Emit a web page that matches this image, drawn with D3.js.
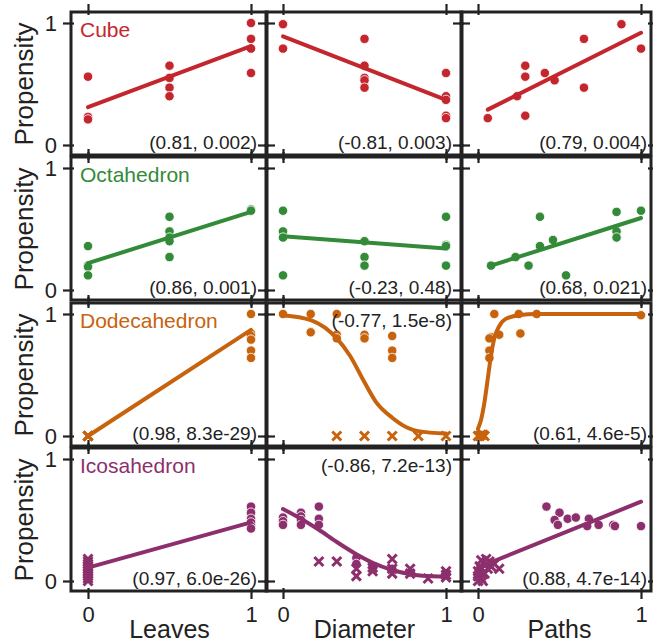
<!DOCTYPE html>
<html>
<head>
<meta charset="utf-8">
<title>Propensity by shape</title>
<script src="https://d3js.org/d3.v7.min.js"></script>
<style>
    body { margin: 0; background: #fff; }
    text { font-family: "Liberation Sans", Arial, Helvetica, sans-serif; }
</style>
</head>
<body>
<div id="my_dataviz"></div>
<script>

    // rows and columns of the grid
    var shapes = ["Cube", "Octahedron", "Dodecahedron", "Icosahedron"];
    var features = ["Leaves", "Diameter", "Paths"];
    var colors = ["#c4262e", "#338a38", "#c7630d", "#8c2f6c"];

    // (correlation, p-value) printed in each panel, row by row
    var stats = [
        ["(0.81, 0.002)", "(-0.81, 0.003)", "(0.79, 0.004)"],
        ["(0.86, 0.001)", "(-0.23, 0.48)", "(0.68, 0.021)"],
        ["(0.98, 8.3e-29)", "(-0.77, 1.5e-8)", "(0.61, 4.6e-5)"],
        ["(0.97, 6.0e-26)", "(-0.86, 7.2e-13)", "(0.88, 4.7e-14)"]
    ];
    // where the stats label sits
    var statsTop = [
        [false, false, false],
        [false, false, false],
        [false, true, false],
        [false, true, false]
    ];

    // points: [x, propensity, marker]  o = dot, x = cross
    var cubeLeaves = [[0, 0.56, "o"], [0, 0.23, "o"], [0, 0.21, "o"], [0.5, 0.65, "o"], [0.5, 0.55, "o"],
        [0.5, 0.47, "o"], [0.5, 0.40, "o"], [1, 1.0, "o"], [1, 0.87, "o"], [1, 0.79, "o"], [1, 0.59, "o"]];
    var cubeDiameter = [[0, 0.99, "o"], [0, 0.79, "o"], [0.5, 0.87, "o"], [0.5, 0.65, "o"], [0.5, 0.55, "o"],
        [0.5, 0.53, "o"], [0.5, 0.47, "o"], [1, 0.59, "o"], [1, 0.40, "o"], [1, 0.37, "o"], [1, 0.24, "o"], [1, 0.22, "o"]];
    var cubePaths = [[0.06, 0.22, "o"], [0.29, 0.24, "o"], [0.24, 0.40, "o"], [0.29, 0.56, "o"], [0.29, 0.65, "o"],
        [0.41, 0.59, "o"], [0.47, 0.53, "o"], [0.65, 0.47, "o"], [0.65, 0.87, "o"], [0.88, 0.99, "o"], [1, 0.79, "o"]];

    var octLeaves = [[0, 0.36, "o"], [0, 0.20, "o"], [0, 0.19, "o"], [0, 0.12, "o"], [0.5, 0.60, "o"], [0.5, 0.48, "o"],
        [0.5, 0.43, "o"], [0.5, 0.40, "o"], [0.5, 0.27, "o"], [1, 0.66, "o"], [1, 0.65, "o"]];
    var octDiameter = [[0, 0.65, "o"], [0, 0.48, "o"], [0, 0.43, "o"], [0, 0.12, "o"], [0.5, 0.40, "o"], [0.5, 0.27, "o"],
        [0.5, 0.20, "o"], [1, 0.60, "o"], [1, 0.37, "o"], [1, 0.36, "o"], [1, 0.20, "o"]];
    var octPaths = [[0.08, 0.20, "o"], [0.23, 0.27, "o"], [0.31, 0.20, "o"], [0.38, 0.36, "o"], [0.38, 0.60, "o"],
        [0.46, 0.41, "o"], [0.54, 0.12, "o"], [0.85, 0.64, "o"], [0.85, 0.48, "o"], [0.85, 0.43, "o"], [1, 0.65, "o"]];

    var dodLeaves = [[0, 0, "x"], [0, 0, "x"], [0, 0, "x"], [1, 1.0, "o"], [1, 0.84, "o"], [1, 0.82, "o"],
        [1, 0.79, "o"], [1, 0.70, "o"], [1, 0.64, "o"]];
    var dodDiameter = [[0, 1.0, "o"], [0.17, 1.0, "o"], [0.17, 0.85, "o"], [0.33, 1.0, "o"], [0.33, 0.83, "o"],
        [0.33, 0.80, "o"], [0.5, 0.83, "o"], [0.5, 0.80, "o"], [0.67, 0.82, "o"], [0.67, 0.70, "o"], [0.67, 0.64, "o"],
        [0.33, 0, "x"], [0.5, 0, "x"], [0.67, 0, "x"], [0.83, 0, "x"], [1, 0, "x"]];
    var dodPaths = [[0.10, 1.0, "o"], [0.25, 1.0, "o"], [0.36, 1.0, "o"], [1, 0.99, "o"], [0.26, 0.84, "o"],
        [0.13, 0.83, "o"], [0.08, 0.81, "o"], [0.07, 0.80, "o"], [0.07, 0.70, "o"], [0.07, 0.64, "o"],
        [0, 0, "x"], [0.02, 0.01, "x"], [0.04, 0, "x"], [0.01, 0, "x"], [0.03, 0.01, "x"]];

    var icoLeaves = [[0, 0, "x"], [0, 0.02, "x"], [0, 0.04, "x"], [0, 0.06, "x"], [0, 0.08, "x"], [0, 0.10, "x"],
        [0, 0.12, "x"], [0, 0.14, "x"], [0, 0.16, "x"], [0, 0.18, "x"], [1, 0.61, "o"], [1, 0.56, "o"],
        [1, 0.51, "o"], [1, 0.48, "o"], [1, 0.45, "o"], [1, 0.43, "o"]];
    var icoDiameter = [[0, 0.52, "o"], [0, 0.49, "o"], [0, 0.46, "o"], [0.11, 0.56, "o"], [0.11, 0.53, "o"],
        [0.11, 0.50, "o"], [0.11, 0.46, "o"], [0.22, 0.61, "o"], [0.22, 0.51, "o"], [0.22, 0.46, "o"],
        [0.45, 0.19, "o"], [0.45, 0.14, "o"], [0.55, 0.12, "o"], [0.67, 0.10, "o"], [0.78, 0.07, "o"], [1, 0.06, "o"],
        [0.22, 0.16, "x"], [0.33, 0.16, "x"], [0.45, 0.10, "x"], [0.45, 0.04, "x"], [0.55, 0.11, "x"], [0.55, 0.08, "x"],
        [0.67, 0.18, "x"], [0.67, 0.10, "x"], [0.67, 0.06, "x"], [0.78, 0.10, "x"], [0.78, 0.06, "x"], [0.89, 0.02, "x"],
        [1, 0.08, "x"], [1, 0.05, "x"], [1, 0.03, "x"]];
    var icoPaths = [[0.42, 0.61, "o"], [0.50, 0.56, "o"], [0.47, 0.50, "o"], [0.49, 0.46, "o"], [0.55, 0.51, "o"],
        [0.60, 0.52, "o"], [0.68, 0.51, "o"], [0.67, 0.45, "o"], [0.74, 0.46, "o"], [0.83, 0.46, "o"], [0.84, 0.45, "o"],
        [1, 0.45, "o"],
        [0, 0, "x"], [0, 0.04, "x"], [0, 0.08, "x"], [0.01, 0.12, "x"], [0.02, 0.02, "x"], [0.02, 0.10, "x"],
        [0.02, 0.17, "x"], [0.04, 0.06, "x"], [0.05, 0.14, "x"], [0.05, 0.18, "x"], [0.06, 0.10, "x"],
        [0.07, 0.16, "x"], [0.08, 0.12, "x"], [0.10, 0.14, "x"], [0.13, 0.10, "x"], [0.03, 0, "x"], [0.01, 0.06, "x"]];

    // fitted curves: [x, propensity]
    var cubeLeavesFit = [[0, 0.31], [1, 0.81]];
    var cubeDiameterFit = [[0, 0.89], [1, 0.37]];
    var cubePathsFit = [[0.06, 0.29], [1, 0.92]];
    var octLeavesFit = [[0, 0.22], [1, 0.64]];
    var octDiameterFit = [[0, 0.44], [1, 0.34]];
    var octPathsFit = [[0.08, 0.20], [1, 0.59]];
    var dodLeavesFit = [[0, 0], [1, 0.87]];
    var dodDiameterFit = [[0, 0.99], [0.17, 0.95], [0.33, 0.80], [0.41, 0.66], [0.5, 0.44], [0.57, 0.28],
        [0.67, 0.15], [0.76, 0.07], [0.83, 0.04], [1, 0.02]];
    var dodPathsFit = [[0, 0.06], [0.02, 0.14], [0.04, 0.28], [0.06, 0.47], [0.08, 0.66], [0.10, 0.80],
        [0.13, 0.90], [0.17, 0.96], [0.25, 0.99], [0.36, 1.0], [1, 1.0]];
    var icoLeavesFit = [[0, 0.11], [1, 0.48]];
    var icoDiameterFit = [[0, 0.59], [0.11, 0.51], [0.22, 0.42], [0.33, 0.32], [0.45, 0.22], [0.55, 0.15],
        [0.67, 0.09], [0.78, 0.055], [0.89, 0.04], [1, 0.035]];
    var icoPathsFit = [[0, 0.11], [1, 0.65]];

    var points = [
        [cubeLeaves, cubeDiameter, cubePaths],
        [octLeaves, octDiameter, octPaths],
        [dodLeaves, dodDiameter, dodPaths],
        [icoLeaves, icoDiameter, icoPaths]
    ];
    var fits = [
        [cubeLeavesFit, cubeDiameterFit, cubePathsFit],
        [octLeavesFit, octDiameterFit, octPathsFit],
        [dodLeavesFit, dodDiameterFit, dodPathsFit],
        [icoLeavesFit, icoDiameterFit, icoPathsFit]
    ];

    // layout
    var width = 653, height = 644;
    var colX0 = [88, 283, 478], unitW = 163;
    var rowY1 = [23, 168, 314, 459], unitH = 122;

    var svg = d3.select("#my_dataviz")
        .append("svg")
        .attr("width", width)
        .attr("height", height);

    function styleAxis(g) {
        g.select(".domain").remove();
        g.selectAll(".tick line").attr("stroke", "#222").attr("stroke-width", 2.2);
        g.attr("font-family", null).attr("font-size", 22);
        g.selectAll(".tick text").attr("fill", "#222");
    }

    shapes.forEach(function (shape, r) {
        features.forEach(function (feature, c) {

            var x = d3.scaleLinear().domain([0, 1]).range([colX0[c], colX0[c] + unitW]);
            var y = d3.scaleLinear().domain([0, 1]).range([rowY1[r] + unitH, rowY1[r]]);
            var left = x(0) - 17, right = Math.min(x(1) + 16, 651);
            var top = y(1) - 11, bottom = y(0) + 10;
            var color = colors[r];

            var g = svg.append("g");

            // ticks on all four sides
            g.append("g")
                .attr("transform", "translate(" + (left + 3) + ",0)")
                .call(d3.axisLeft(y).tickValues([0, 1]).tickSize(11).tickPadding(6)
                    .tickFormat(c == 0 ? d3.format("d") : ""))
                .call(styleAxis);
            g.append("g")
                .attr("transform", "translate(" + (right - 3) + ",0)")
                .call(d3.axisRight(y).tickValues([0, 1]).tickSize(11).tickFormat(""))
                .call(styleAxis);
            g.append("g")
                .attr("transform", "translate(0," + (top + 3) + ")")
                .call(d3.axisTop(x).tickValues([0, 1]).tickSize(11).tickFormat(""))
                .call(styleAxis);
            g.append("g")
                .attr("transform", "translate(0," + (bottom - 3) + ")")
                .call(d3.axisBottom(x).tickValues([0, 1]).tickSize(11).tickPadding(7)
                    .tickFormat(r == shapes.length - 1 ? d3.format("d") : ""))
                .call(styleAxis);

            // panel frame
            g.append("rect")
                .attr("x", left)
                .attr("y", top)
                .attr("width", right - left)
                .attr("height", bottom - top)
                .attr("fill", "none")
                .attr("stroke", "#222")
                .attr("stroke-width", 3);

            var data = points[r][c];

            // dots
            g.append("g")
                .selectAll("circle")
                .data(data.filter(function (d) { return d[2] == "o"; }))
                .enter()
                .append("circle")
                .attr("cx", function (d) { return x(d[0]); })
                .attr("cy", function (d) { return y(d[1]); })
                .attr("r", 4.7)
                .attr("fill", color)
                .attr("stroke", "white")
                .attr("stroke-width", 0.8);

            // crosses
            g.append("g")
                .selectAll("path")
                .data(data.filter(function (d) { return d[2] == "x"; }))
                .enter()
                .append("path")
                .attr("d", function (d) {
                    var px = x(d[0]), py = y(d[1]), s = 4.5;
                    return "M" + (px - s) + "," + (py - s) + "L" + (px + s) + "," + (py + s) +
                        "M" + (px - s) + "," + (py + s) + "L" + (px + s) + "," + (py - s);
                })
                .attr("stroke", color)
                .attr("stroke-width", 3)
                .attr("fill", "none");

            // fitted line
            var line = d3.line()
                .x(function (d) { return x(d[0]); })
                .y(function (d) { return y(d[1]); })
                .curve(d3.curveMonotoneX);
            g.append("path")
                .datum(fits[r][c])
                .attr("d", line)
                .attr("fill", "none")
                .attr("stroke", color)
                .attr("stroke-width", 4)
                .attr("stroke-linecap", "round");

            // stats label
            g.append("text")
                .attr("x", x(1) + 6)
                .attr("y", statsTop[r][c] ? y(1) + 13 : y(0) + 4)
                .attr("text-anchor", "end")
                .attr("font-size", 19)
                .attr("fill", "#222")
                .text(stats[r][c]);

            // shape name
            if (c == 0) {
                g.append("text")
                    .attr("x", x(0) - 8)
                    .attr("y", y(1) + 14)
                    .attr("font-size", 21)
                    .attr("fill", color)
                    .text(shape);

                svg.append("text")
                    .attr("transform", "translate(33," + ((y(0) + y(1)) / 2) + ") rotate(-90)")
                    .attr("text-anchor", "middle")
                    .attr("font-size", 26)
                    .attr("fill", "#222")
                    .text("Propensity");
            }

            // feature name under the last row
            if (r == shapes.length - 1) {
                svg.append("text")
                    .attr("x", x(0.5))
                    .attr("y", 638)
                    .attr("text-anchor", "middle")
                    .attr("font-size", 25)
                    .attr("fill", "#222")
                    .text(feature);
            }
        });
    });

</script>
</body>
</html>
